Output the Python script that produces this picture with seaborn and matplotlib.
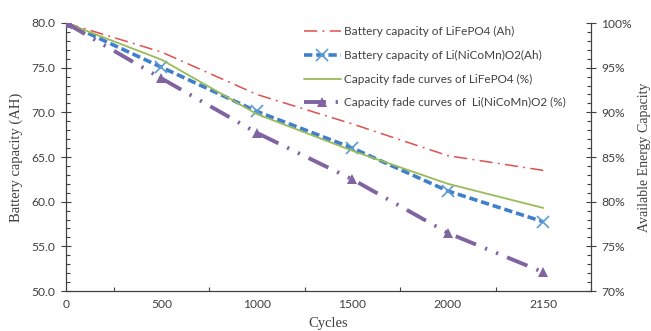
import numpy as np
import pandas as pd
import matplotlib
matplotlib.use("Agg")
import matplotlib.pyplot as plt
import seaborn as sns
from matplotlib.ticker import FixedLocator, MultipleLocator, FuncFormatter

# ---- data ----
cycles = ["0", "500", "1000", "1500", "2000", "2150"]
lfp_ah = [80.0, 76.75, 72.0, 68.7, 65.15, 63.5]
nmc_ah = [80.0, 75.05, 70.1, 66.0, 61.2, 57.75]
lfp_pct = [100.0, 95.9, 89.8, 85.7, 82.0, 79.3]
nmc_pct = [100.0, 93.8, 87.7, 82.5, 76.5, 72.1]

labels = [
    "Battery capacity of LiFePO4 (Ah)",
    "Battery capacity of Li(NiCoMn)O2(Ah)",
    "Capacity fade curves of LiFePO4 (%)",
    "Capacity fade curves of  Li(NiCoMn)O2 (%)",
]

sns.set_theme(style="white")
plt.rcParams["lines.scale_dashes"] = False
plt.rcParams["font.family"] = ["Lato", "DejaVu Sans"]

pos = np.arange(len(cycles))
df = pd.DataFrame({"pos": pos, "lfp_ah": lfp_ah, "nmc_ah": nmc_ah,
                   "lfp_pct": lfp_pct, "nmc_pct": nmc_pct})

fig = plt.figure(figsize=(6.51, 3.31), dpi=100)
ax = fig.add_axes([66 / 651, 1 - 291 / 331, 525 / 651, 268 / 331])
ax2 = ax.twinx()

red = "#E0504D"
blue = "#3F7FCB"
blue_m = "#5B9BD5"
green = "#9BBB59"
purple = "#8064A2"

sns.lineplot(data=df, x="pos", y="lfp_ah", ax=ax, color=red, lw=1.1,
             linestyle=(0, (9.5, 3.8, 1.4, 3.8)), label=labels[0], legend=False)
sns.lineplot(data=df, x="pos", y="nmc_ah", ax=ax, color=blue, lw=2.6,
             linestyle=(0, (6.0, 2.8)), marker="x", markersize=8,
             markeredgewidth=1.2, markeredgecolor=blue_m, label=labels[1], legend=False)
sns.lineplot(data=df, x="pos", y="lfp_pct", ax=ax2, color=green, lw=1.3,
             label=labels[2], legend=False)
sns.lineplot(data=df, x="pos", y="nmc_pct", ax=ax2, color=purple, lw=2.8,
             linestyle=(0, (15.8, 7.0, 1.6, 7.0, 1.6, 7.0)), marker="^",
             markersize=7.5, markeredgewidth=0, label=labels[3], legend=False)

ax.set_xlim(0, 5.5)
ax.set_ylim(50, 80)
ax2.set_ylim(70, 100)

ax.set_xticks(pos)
ax.set_xticklabels(cycles)
ax.xaxis.set_minor_locator(FixedLocator(np.arange(0.5, 6, 1.0)))
ax.yaxis.set_major_locator(MultipleLocator(5))
ax.yaxis.set_minor_locator(MultipleLocator(1))
ax.yaxis.set_major_formatter(FuncFormatter(lambda v, p: f"{v:.1f}"))
ax2.yaxis.set_major_locator(MultipleLocator(5))
ax2.yaxis.set_minor_locator(MultipleLocator(1))
ax2.yaxis.set_major_formatter(FuncFormatter(lambda v, p: f"{v:.0f}%"))

tc = "#404040"
sc = "#404040"
fs = 8.7
ax.tick_params(axis="x", which="major", length=0, labelsize=fs, labelcolor=tc, pad=6)
ax.tick_params(axis="x", which="minor", direction="in", length=3, width=0.8, color=sc, bottom=True)
ax.tick_params(axis="y", which="major", direction="inout", length=7, width=0.8, color=sc,
               labelsize=fs, labelcolor=tc, left=True, pad=4)
ax.tick_params(axis="y", which="minor", direction="in", length=3, width=0.8, color=sc, left=True)
ax2.tick_params(axis="y", which="major", direction="inout", length=7, width=0.8, color=sc,
                labelsize=fs, labelcolor=tc, right=True, pad=4)
ax2.tick_params(axis="y", which="minor", direction="in", length=3, width=0.8, color=sc, right=True)

for a in (ax, ax2):
    a.spines["top"].set_visible(False)
    for s in ("left", "right", "bottom"):
        a.spines[s].set_color(sc)
        a.spines[s].set_linewidth(0.9)
    a.grid(False)
ax2.spines["left"].set_visible(False)
ax2.spines["bottom"].set_visible(False)
ax.spines["right"].set_visible(False)

serif = ["Liberation Serif", "DejaVu Serif"]
ax.set_xlabel("Cycles", family=serif, fontsize=10.5, color=tc, labelpad=5)
ax.set_ylabel("Battery capacity (AH)", family=serif, fontsize=10.5, color=tc, labelpad=6)
ax2.set_ylabel("Available Energy Capacity", family=serif, fontsize=10, color=tc, labelpad=4)

h1, l1 = ax.get_legend_handles_labels()
h2, l2 = ax2.get_legend_handles_labels()
leg = ax2.legend(h1 + h2, l1 + l2, loc="upper left", frameon=False,
                 bbox_to_anchor=(304 / 651, 1 - 26 / 331), bbox_transform=fig.transFigure,
                 fontsize=8.5, labelspacing=1.08, handlelength=3.1, handletextpad=0.3,
                 borderpad=0, borderaxespad=0, numpoints=1)
for t in leg.get_texts():
    t.set_color(tc)

fig.savefig("out.png", dpi=100)
